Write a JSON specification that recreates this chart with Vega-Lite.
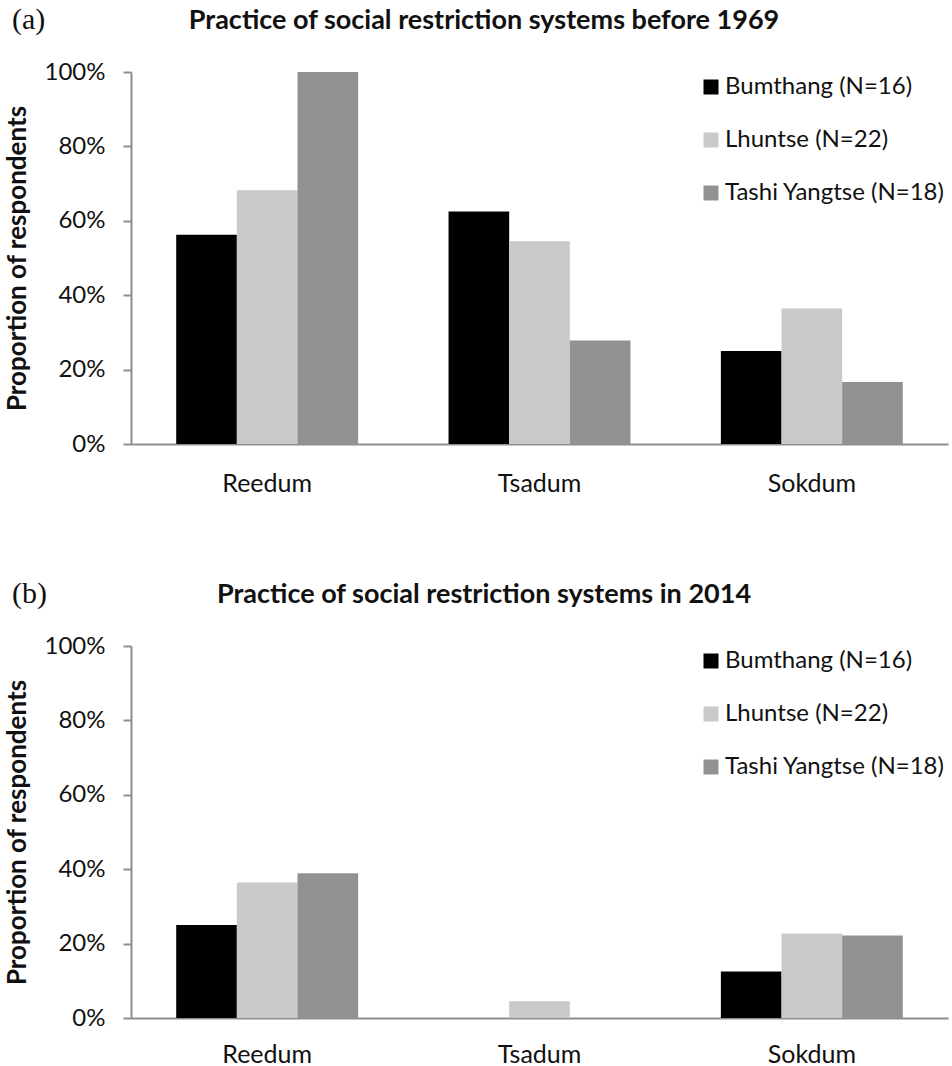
{
  "$schema": "https://vega.github.io/schema/vega-lite/v6.json",
  "background": "white",
  "padding": {"left": 4, "top": 5, "right": 5, "bottom": 0},
  "config": {
    "font": "Lato",
    "view": {"stroke": null},
    "axis": {
      "labelFont": "Lato",
      "titleFont": "Lato",
      "labelColor": "#111111",
      "titleColor": "#111111",
      "domainColor": "#8e8e8e",
      "domainWidth": 2,
      "tickColor": "#8e8e8e",
      "tickWidth": 2,
      "grid": false
    },
    "legend": {
      "labelFont": "Lato",
      "labelColor": "#111111"
    }
  },
  "datasets": {
    "y1969": [
      {"system": "Reedum", "district": "Bumthang (N=16)", "proportion": 0.5625},
      {"system": "Reedum", "district": "Lhuntse (N=22)", "proportion": 0.682},
      {"system": "Reedum", "district": "Tashi Yangtse (N=18)", "proportion": 1.0},
      {"system": "Tsadum", "district": "Bumthang (N=16)", "proportion": 0.625},
      {"system": "Tsadum", "district": "Lhuntse (N=22)", "proportion": 0.545},
      {"system": "Tsadum", "district": "Tashi Yangtse (N=18)", "proportion": 0.278},
      {"system": "Sokdum", "district": "Bumthang (N=16)", "proportion": 0.25},
      {"system": "Sokdum", "district": "Lhuntse (N=22)", "proportion": 0.364},
      {"system": "Sokdum", "district": "Tashi Yangtse (N=18)", "proportion": 0.167}
    ],
    "y2014": [
      {"system": "Reedum", "district": "Bumthang (N=16)", "proportion": 0.25},
      {"system": "Reedum", "district": "Lhuntse (N=22)", "proportion": 0.364},
      {"system": "Reedum", "district": "Tashi Yangtse (N=18)", "proportion": 0.389},
      {"system": "Tsadum", "district": "Bumthang (N=16)", "proportion": 0},
      {"system": "Tsadum", "district": "Lhuntse (N=22)", "proportion": 0.045},
      {"system": "Tsadum", "district": "Tashi Yangtse (N=18)", "proportion": 0},
      {"system": "Sokdum", "district": "Bumthang (N=16)", "proportion": 0.125},
      {"system": "Sokdum", "district": "Lhuntse (N=22)", "proportion": 0.227},
      {"system": "Sokdum", "district": "Tashi Yangtse (N=18)", "proportion": 0.222}
    ]
  },
  "resolve": {
    "scale": {"color": "independent", "x": "independent", "y": "independent", "xOffset": "independent"},
    "legend": {"color": "independent"}
  },
  "spacing": 83,
  "vconcat": [
    {
      "title": {"text": "(a)", "anchor": "start", "frame": "bounds", "font": "Liberation Serif", "fontSize": 30, "fontWeight": "normal", "color": "#111111", "offset": -28, "dx": 8},
      "resolve": {
        "scale": {"color": "independent", "x": "independent", "y": "independent", "xOffset": "independent"},
        "legend": {"color": "independent"}
      },
      "vconcat": [
        {
          "width": 817,
          "height": 372,
          "title": {"text": "Practice of social restriction systems before 1969", "anchor": "middle", "frame": "bounds", "font": "Lato", "fontSize": 27, "fontWeight": "bold", "color": "#111111", "offset": 25, "dx": 8},
          "data": {"name": "y1969"},
          "mark": {"type": "bar"},
          "encoding": {
            "x": {
              "field": "system", "type": "nominal", "sort": ["Reedum", "Tsadum", "Sokdum"],
              "scale": {"paddingInner": 0.332, "paddingOuter": 0.166},
              "axis": {"title": null, "labelAngle": 0, "ticks": false, "labelPadding": 27, "labelFontSize": 25}
            },
            "xOffset": {"field": "district", "type": "nominal", "sort": ["Bumthang (N=16)", "Lhuntse (N=22)", "Tashi Yangtse (N=18)"]},
            "y": {
              "field": "proportion", "type": "quantitative",
              "scale": {"domain": [0, 1]},
              "axis": {"title": "Proportion of respondents", "titleFontSize": 26, "titleFontWeight": "bold", "titlePadding": 14, "format": ".0%", "values": [0, 0.2, 0.4, 0.6, 0.8, 1], "labelFontSize": 24, "labelPadding": 18, "tickSize": 8}
            },
            "color": {
              "field": "district", "type": "nominal",
              "scale": {"domain": ["Bumthang (N=16)", "Lhuntse (N=22)", "Tashi Yangtse (N=18)"], "range": ["#000000", "#c9c9c9", "#929292"]},
              "legend": {"title": null, "orient": "top-right", "offset": 3, "symbolType": "square", "symbolSize": 225, "symbolStrokeWidth": 0, "labelFontSize": 24, "labelOffset": 2, "rowPadding": 29, "labelLimit": 400}
            }
          }
        }
      ]
    },
    {
      "title": {"text": "(b)", "anchor": "start", "frame": "bounds", "font": "Liberation Serif", "fontSize": 30, "fontWeight": "normal", "color": "#111111", "offset": -28, "dx": 8},
      "resolve": {
        "scale": {"color": "independent", "x": "independent", "y": "independent", "xOffset": "independent"},
        "legend": {"color": "independent"}
      },
      "vconcat": [
        {
          "width": 817,
          "height": 372,
          "title": {"text": "Practice of social restriction systems in 2014", "anchor": "middle", "frame": "bounds", "font": "Lato", "fontSize": 27, "fontWeight": "bold", "color": "#111111", "offset": 25, "dx": 8},
          "data": {"name": "y2014"},
          "mark": {"type": "bar"},
          "encoding": {
            "x": {
              "field": "system", "type": "nominal", "sort": ["Reedum", "Tsadum", "Sokdum"],
              "scale": {"paddingInner": 0.332, "paddingOuter": 0.166},
              "axis": {"title": null, "labelAngle": 0, "ticks": false, "labelPadding": 24, "labelFontSize": 25}
            },
            "xOffset": {"field": "district", "type": "nominal", "sort": ["Bumthang (N=16)", "Lhuntse (N=22)", "Tashi Yangtse (N=18)"]},
            "y": {
              "field": "proportion", "type": "quantitative",
              "scale": {"domain": [0, 1]},
              "axis": {"title": "Proportion of respondents", "titleFontSize": 26, "titleFontWeight": "bold", "titlePadding": 14, "format": ".0%", "values": [0, 0.2, 0.4, 0.6, 0.8, 1], "labelFontSize": 24, "labelPadding": 18, "tickSize": 8}
            },
            "color": {
              "field": "district", "type": "nominal",
              "scale": {"domain": ["Bumthang (N=16)", "Lhuntse (N=22)", "Tashi Yangtse (N=18)"], "range": ["#000000", "#c9c9c9", "#929292"]},
              "legend": {"title": null, "orient": "top-right", "offset": 3, "symbolType": "square", "symbolSize": 225, "symbolStrokeWidth": 0, "labelFontSize": 24, "labelOffset": 2, "rowPadding": 29, "labelLimit": 400}
            }
          }
        }
      ]
    }
  ]
}
